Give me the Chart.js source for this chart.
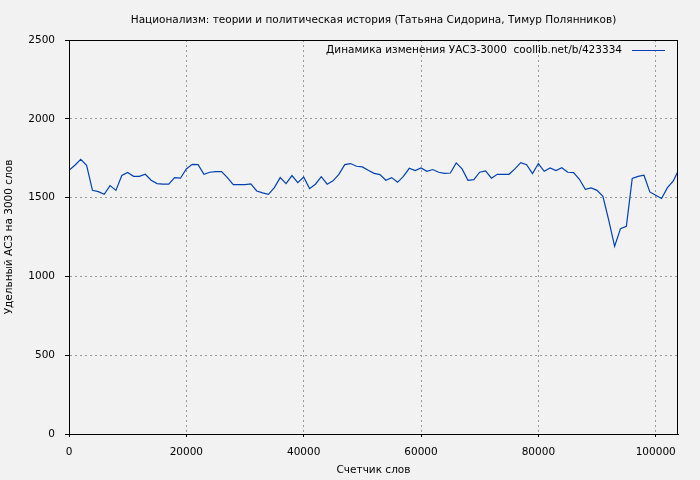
<!DOCTYPE html>
<html>
<head>
<meta charset="utf-8">
<script src="https://cdn.jsdelivr.net/npm/chart.js@4"></script>
<style>
  html, body { margin: 0; padding: 0; background: #f2f2f2; }
  #wrap { width: 700px; height: 480px; }
</style>
</head>
<body>
<div id="wrap"><canvas id="chart"></canvas></div>
<script>
// word counter positions (every 1000 words) and values
const words = [
  0, 1000, 2000, 3000, 4000, 5000, 6000, 7000, 8000, 9000,
  10000, 11000, 12000, 13000, 14000, 15000, 16000, 17000, 18000, 19000,
  20000, 21000, 22000, 23000, 24000, 25000, 26000, 27000, 28000, 29000,
  30000, 31000, 32000, 33000, 34000, 35000, 36000, 37000, 38000, 39000,
  40000, 41000, 42000, 43000, 44000, 45000, 46000, 47000, 48000, 49000,
  50000, 51000, 52000, 53000, 54000, 55000, 56000, 57000, 58000, 59000,
  60000, 61000, 62000, 63000, 64000, 65000, 66000, 67000, 68000, 69000,
  70000, 71000, 72000, 73000, 74000, 75000, 76000, 77000, 78000, 79000,
  80000, 81000, 82000, 83000, 84000, 85000, 86000, 87000, 88000, 89000,
  90000, 91000, 92000, 93000, 94000, 95000, 96000, 97000, 98000, 99000,
  100000, 101000, 102000, 103000, 103800
];
const uasz = [
  1673, 1705, 1743, 1705, 1546, 1538, 1521, 1576, 1546, 1640,
  1659, 1635, 1635, 1648, 1610, 1589, 1585, 1585, 1627, 1623,
  1682, 1711, 1709, 1648, 1661, 1665, 1665, 1627, 1582, 1582,
  1582, 1587, 1542, 1530, 1521, 1563, 1627, 1589, 1640, 1595,
  1631, 1557, 1585, 1633, 1585, 1606, 1648, 1709, 1716, 1699,
  1695, 1673, 1654, 1646, 1610, 1627, 1597, 1635, 1686, 1671,
  1688, 1667, 1678, 1661, 1654, 1656, 1720, 1682, 1610, 1614,
  1661, 1669, 1623, 1648, 1648, 1648, 1682, 1722, 1709, 1652,
  1716, 1667, 1688, 1671, 1690, 1661, 1659, 1616, 1553, 1561,
  1546, 1508, 1356, 1191, 1303, 1318, 1621, 1635, 1642, 1536,
  1515, 1494, 1563, 1606, 1667
];
const xTicks = [0, 20000, 40000, 60000, 80000, 100000];
const yTicks = [0, 500, 1000, 1500, 2000, 2500];

const chartTitle = "Национализм: теории и политическая история (Татьяна Сидорина, Тимур Полянников)";
const seriesLabel = "Динамика изменения УАСЗ-3000  coollib.net/b/423334";
const lineColor = "#0040b4";
const font = "DejaVu Sans";
const fontSize = 10.5;

const points = words.map((w, i) => ({ x: w, y: uasz[i] }));

// background, frame and the in-plot legend (line sample right of the text)
const framePlugin = {
  id: "frame",
  beforeDraw(chart) {
    const ctx = chart.ctx;
    ctx.save();
    ctx.fillStyle = "#f2f2f2";
    ctx.fillRect(0, 0, chart.width, chart.height);
    ctx.restore();
  },
  afterDraw(chart) {
    const ctx = chart.ctx;
    const a = chart.chartArea;
    ctx.save();
    ctx.strokeStyle = "#000";
    ctx.lineWidth = 1;
    ctx.strokeRect(Math.round(a.left) + 0.5, Math.round(a.top) + 0.5,
      Math.round(a.right - a.left) - 1, Math.round(a.bottom - a.top));
    const ds = chart.data.datasets[0];
    const ly = a.top + 10.5;
    const lineEnd = a.right - 13;
    const lineStart = lineEnd - 33;
    ctx.strokeStyle = ds.borderColor;
    ctx.lineWidth = 1.2;
    ctx.beginPath();
    ctx.moveTo(lineStart, ly);
    ctx.lineTo(lineEnd, ly);
    ctx.stroke();
    ctx.fillStyle = "#000";
    ctx.font = fontSize + "px '" + font + "'";
    ctx.textAlign = "right";
    ctx.textBaseline = "middle";
    ctx.fillText(ds.label, lineStart - 10, ly);
    ctx.restore();
  }
};

new Chart(document.getElementById("chart"), {
  type: "line",
  data: {
    datasets: [{
      label: seriesLabel,
      data: points,
      borderColor: lineColor,
      borderWidth: 1.2,
      pointRadius: 0,
      tension: 0,
      fill: false
    }]
  },
  options: {
    responsive: true,
    maintainAspectRatio: false,
    animation: false,
    layout: { padding: { left: 0, right: 22, top: 0, bottom: 0 } },
    plugins: {
      legend: { display: false },
      tooltip: { enabled: false },
      title: {
        display: true,
        text: chartTitle,
        fullSize: false,
        color: "#000",
        font: { family: font, size: fontSize, weight: "normal" },
        padding: { top: 14, bottom: 13.4 }
      }
    },
    scales: {
      x: {
        type: "linear",
        min: 0,
        max: 103800,
        afterBuildTicks(scale) {
          scale.ticks = xTicks.map(v => ({ value: v }));
        },
        afterFit(scale) { scale.height = 46; },
        ticks: {
          color: "#000",
          padding: 9,
          maxRotation: 0,
          font: { family: font, size: fontSize },
          callback: v => String(v)
        },
        grid: { color: "#999", tickColor: "#000", tickLength: 3, lineWidth: 1 },
        border: { color: "#000", dash: [2, 3] },
        title: {
          display: true,
          text: "Счетчик слов",
          color: "#000",
          font: { family: font, size: fontSize },
          padding: { top: 2, bottom: 3 }
        }
      },
      y: {
        min: 0,
        max: 2500,
        afterBuildTicks(scale) {
          scale.ticks = yTicks.map(v => ({ value: v }));
        },
        afterFit(scale) { scale.width = 69; },
        ticks: {
          color: "#000",
          padding: 10,
          font: { family: font, size: fontSize },
          callback: v => String(v)
        },
        grid: { color: "#999", tickColor: "#000", tickLength: 4, lineWidth: 1 },
        border: { color: "#000", dash: [2, 3] },
        title: {
          display: true,
          text: "Удельный АСЗ на 3000 слов",
          color: "#000",
          font: { family: font, size: fontSize },
          padding: { top: 3, bottom: 0 }
        }
      }
    }
  },
  plugins: [framePlugin]
});
</script>
</body>
</html>
